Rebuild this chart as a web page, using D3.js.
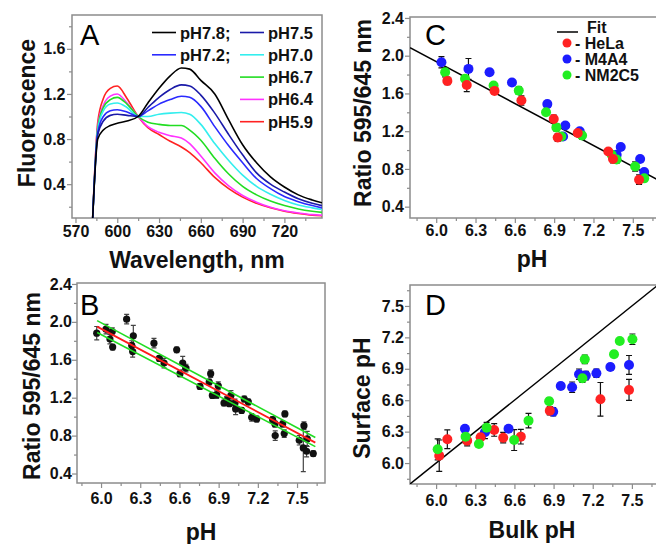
<!DOCTYPE html>
<html>
<head>
<meta charset="utf-8">
<script src="https://cdnjs.cloudflare.com/ajax/libs/d3/7.8.5/d3.min.js"></script>
<style>
  body { margin: 0; background: #fff; }
  svg text { font-family: "Liberation Sans", Arial, sans-serif; }
</style>
</head>
<body>
<div id="viz"></div>
<script>
// ---- Panel A: emission spectra ----
const wavelengths = [582, 586, 590, 595, 600, 607, 615, 622, 630, 638, 646, 652, 660, 670, 680, 690, 700, 710, 720, 730, 740, 747]
const fluorPH78 = [0.0, 0.80, 0.88, 0.92, 0.94, 0.96, 1.0, 1.12, 1.25, 1.36, 1.43, 1.42, 1.32, 1.20, 0.97, 0.75, 0.59, 0.465, 0.375, 0.305, 0.26, 0.235]
const fluorPH75 = [0.0, 0.84, 0.96, 1.01, 1.02, 1.01, 1.0, 1.08, 1.17, 1.24, 1.28, 1.27, 1.19, 1.03, 0.84, 0.66, 0.50, 0.40, 0.33, 0.27, 0.23, 0.21]
const fluorPH72 = [0.0, 0.86, 1.0, 1.05, 1.06, 1.04, 1.0, 1.05, 1.11, 1.15, 1.18, 1.17, 1.09, 0.91, 0.74, 0.59, 0.45, 0.36, 0.29, 0.245, 0.21, 0.19]
const fluorPH70 = [0.0, 0.88, 1.05, 1.11, 1.12, 1.08, 1.0, 1.0, 1.02, 1.03, 1.035, 1.02, 0.93, 0.76, 0.61, 0.48, 0.38, 0.31, 0.255, 0.215, 0.19, 0.175]
const fluorPH67 = [0.0, 0.90, 1.08, 1.15, 1.17, 1.11, 1.0, 0.95, 0.93, 0.92, 0.92, 0.88, 0.79, 0.63, 0.49, 0.38, 0.305, 0.25, 0.21, 0.18, 0.16, 0.15]
const fluorPH64 = [0.0, 0.92, 1.10, 1.18, 1.20, 1.12, 1.0, 0.91, 0.86, 0.83, 0.81, 0.76, 0.65, 0.50, 0.385, 0.30, 0.24, 0.195, 0.165, 0.145, 0.13, 0.125]
const fluorPH59 = [0.0, 0.95, 1.16, 1.25, 1.27, 1.16, 1.0, 0.90, 0.84, 0.78, 0.73, 0.68, 0.59, 0.46, 0.36, 0.285, 0.23, 0.19, 0.16, 0.14, 0.125, 0.12]
const wlTicks = [570, 600, 630, 660, 690, 720]
const fluorTicks = [0.4, 0.8, 1.2, 1.6]

// ---- Panel B: pooled calibration [pH, ratio, err] ----
const calibPoints = [
  [5.967, 1.881, 0.07], [6.038, 1.923, 0.05], [6.068, 1.818, 0.05], [6.086, 1.898, 0.04], [6.089, 1.734, 0.03],
  [6.196, 2.028, 0.05], [6.235, 1.751, 0.05], [6.247, 1.853, 0.11], [6.242, 1.687, 0.06], [6.405, 1.775, 0.05],
  [6.446, 1.614, 0.03], [6.482, 1.565, 0.05], [6.579, 1.705, 0.03], [6.604, 1.453, 0.03], [6.625, 1.565, 0.07],
  [6.650, 1.513, 0.04], [6.757, 1.319, 0.03], [6.828, 1.365, 0.03], [6.839, 1.453, 0.04], [6.852, 1.224, 0.03],
  [6.885, 1.232, 0.04], [6.897, 1.326, 0.04], [6.941, 1.144, 0.03], [6.961, 1.172, 0.04], [6.982, 1.137, 0.03],
  [6.994, 1.224, 0.05], [7.025, 1.144, 0.04], [7.030, 1.081, 0.06], [7.076, 1.066, 0.03], [7.096, 1.186, 0.03],
  [7.127, 1.155, 0.03], [7.153, 0.993, 0.04], [7.191, 0.975, 0.03], [7.313, 0.968, 0.03], [7.331, 0.923, 0.03],
  [7.333, 0.800, 0.05], [7.390, 0.923, 0.03], [7.402, 0.821, 0.04], [7.407, 1.029, 0.03], [7.517, 0.751, 0.05],
  [7.553, 0.905, 0.04], [7.548, 0.670, 0.25], [7.573, 0.635, 0.06], [7.624, 0.610, 0.03], [7.578, 0.765, 0.08]
]
const fitB = [[5.97, 1.95], [7.64, 0.726]]
const fitBUpper = [[5.97, 2.013], [7.64, 0.78]]
const fitBLower = [[5.97, 1.887], [7.64, 0.684]]
const pHTicks = [6.0, 6.3, 6.6, 6.9, 7.2, 7.5]
const ratioTicks = [0.4, 0.8, 1.2, 1.6, 2.0, 2.4]

// ---- Panel C: ratio per cell line [pH, ratio, err] ----
const ratioHeLa = [[6.085, 1.733, 0.04], [6.233, 1.69, 0.07], [6.445, 1.627, 0.03], [6.65, 1.525, 0.05], [6.897, 1.33, 0.04],
  [6.927, 1.133, 0.04], [7.08, 1.18, 0.03], [7.313, 0.985, 0.03], [7.349, 0.905, 0.04], [7.548, 0.686, 0.05]]
const ratioM4A4 = [[6.04, 1.93, 0.06], [6.246, 1.86, 0.11], [6.407, 1.825, 0.03], [6.578, 1.716, 0.02], [6.848, 1.487, 0.03],
  [6.968, 1.144, 0.02], [6.985, 1.26, 0.03], [7.095, 1.20, 0.02], [7.377, 0.95, 0.03], [7.408, 1.032, 0.02],
  [7.556, 0.905, 0.03], [7.587, 0.767, 0.03]]
const ratioNM2C5 = [[6.068, 1.825, 0.05], [6.22, 1.755, 0.03], [6.438, 1.684, 0.03], [6.63, 1.63, 0.04], [6.838, 1.40, 0.02],
  [6.917, 1.24, 0.04], [6.955, 1.144, 0.03], [7.113, 1.155, 0.04], [7.339, 0.95, 0.04], [7.377, 0.90, 0.04],
  [7.518, 0.826, 0.05], [7.587, 0.70, 0.03]]
const fitC = [[5.8, 2.086], [7.7, 0.678]]

// ---- Panel D: surface vs bulk pH [bulk, surface, err] ----
const surfHeLa = [[6.024, 6.07, 0.15], [6.086, 6.227, 0.09], [6.238, 6.214, 0.05], [6.341, 6.246, 0.03], [6.445, 6.316, 0.06],
  [6.514, 6.242, 0.05], [6.649, 6.252, 0.07], [6.871, 6.50, 0.04], [7.259, 6.609, 0.16], [7.478, 6.698, 0.1]]
const surfM4A4 = [[6.221, 6.328, 0.03], [6.374, 6.294, 0.06], [6.555, 6.328, 0.03], [6.897, 6.49, 0.04], [6.955, 6.736, 0.03],
  [7.042, 6.724, 0.05], [7.095, 6.848, 0.05], [7.147, 6.835, 0.04], [7.228, 6.857, 0.04], [7.335, 6.917, 0.03], [7.478, 6.937, 0.09]]
const surfNM2C5 = [[6.012, 6.131, 0.1], [6.226, 6.252, 0.06], [6.328, 6.182, 0.03], [6.387, 6.338, 0.05], [6.598, 6.22, 0.1],
  [6.708, 6.405, 0.07], [6.866, 6.59, 0.03], [7.121, 6.81, 0.04], [7.139, 6.99, 0.04], [7.363, 7.039, 0.03],
  [7.407, 7.166, 0.02], [7.504, 7.182, 0.05]]
const identityD = [[5.8, 5.8], [7.7, 7.7]]
const surfTicks = [6.0, 6.3, 6.6, 6.9, 7.2, 7.5]

const RED = "#ff2222", BLUE = "#1c1cff", GREEN = "#22ee22"

const spectra = [
  { label: "pH7.8;", color: "#000000", values: fluorPH78, col: 0, row: 0 },
  { label: "pH7.5", color: "#1a1aa8", values: fluorPH75, col: 1, row: 0 },
  { label: "pH7.2;", color: "#2a2aff", values: fluorPH72, col: 0, row: 1 },
  { label: "pH7.0", color: "#33eeee", values: fluorPH70, col: 1, row: 1 },
  { label: "pH6.7", color: "#22dd22", values: fluorPH67, col: 1, row: 2 },
  { label: "pH6.4", color: "#ff33ff", values: fluorPH64, col: 1, row: 3 },
  { label: "pH5.9", color: "#ff2222", values: fluorPH59, col: 1, row: 4 }
]

const svg = d3.select("#viz").append("svg")
  .attr("width", 656)
  .attr("height", 544)

function minorTicks(major, step) {
  const out = []
  major.forEach(v => { out.push(+(v - step).toFixed(3)) })
  out.push(+(major[major.length - 1] + step).toFixed(3))
  return out
}

function panel(cfg) {
  const x = d3.scaleLinear().domain(cfg.xDomain).range([cfg.left, cfg.right])
  const y = d3.scaleLinear().domain(cfg.yDomain).range([cfg.bottom, cfg.top])

  svg.append("clipPath").attr("id", "clip" + cfg.letter)
    .append("rect")
    .attr("x", cfg.left).attr("y", cfg.top)
    .attr("width", cfg.right - cfg.left).attr("height", cfg.bottom - cfg.top)

  svg.append("rect")
    .attr("x", cfg.left).attr("y", cfg.top)
    .attr("width", cfg.right - cfg.left).attr("height", cfg.bottom - cfg.top)
    .attr("fill", "none").attr("stroke", "#8c8c8c").attr("stroke-width", 1.5)

  const inX = v => v >= cfg.xDomain[0] && v <= cfg.xDomain[1]
  const inY = v => v >= cfg.yDomain[0] && v <= cfg.yDomain[1]

  // minor ticks
  svg.append("g").attr("transform", `translate(0,${cfg.bottom})`)
    .call(d3.axisBottom(x).tickValues(minorTicks(cfg.xTicks, cfg.xMinor).filter(inX)).tickSize(3).tickFormat(""))
  svg.append("g").attr("transform", `translate(${cfg.left},0)`)
    .call(d3.axisLeft(y).tickValues(minorTicks(cfg.yTicks, cfg.yMinor).filter(inY)).tickSize(3).tickFormat(""))

  // major ticks + labels
  svg.append("g").attr("transform", `translate(0,${cfg.bottom})`)
    .call(d3.axisBottom(x).tickValues(cfg.xTicks).tickSize(5).tickPadding(cfg.xPad).tickFormat(cfg.xFmt))
  svg.append("g").attr("transform", `translate(${cfg.left},0)`)
    .call(d3.axisLeft(y).tickValues(cfg.yTicks).tickSize(5).tickPadding(cfg.yPad).tickFormat(cfg.yFmt))

  svg.selectAll(".domain").remove()
  svg.selectAll(".tick line").attr("stroke", "#8c8c8c").attr("stroke-width", 1.2)
  svg.selectAll(".tick text")
    .attr("font-size", 16).attr("font-weight", "bold").attr("fill", "#111")
    .style("font-family", '"Liberation Sans", Arial, sans-serif')

  // titles
  svg.append("text")
    .attr("x", (cfg.left + Math.min(cfg.right, 656)) / 2 + (cfg.xTitleShift || 0))
    .attr("y", cfg.xTitleY)
    .attr("text-anchor", "middle")
    .attr("font-size", 23).attr("font-weight", "bold").attr("fill", "#111")
    .text(cfg.xTitle)
  svg.append("text")
    .attr("transform", `translate(${cfg.yTitleX},${cfg.yTitleMid}) rotate(-90)`)
    .attr("text-anchor", "middle")
    .attr("font-size", 23).attr("font-weight", "bold").attr("fill", "#111")
    .text(cfg.yTitle)

  svg.append("text")
    .attr("x", cfg.left + cfg.letterDx).attr("y", cfg.top + cfg.letterDy)
    .attr("font-size", 29).attr("fill", "#000")
    .text(cfg.letter)

  const plot = svg.append("g").attr("clip-path", `url(#clip${cfg.letter})`)
  return { plot, x, y }
}

function drawErrors(g, x, y, data, color, cap) {
  g.selectAll(null).data(data).enter().append("path")
    .attr("d", d => {
      const cx = x(d[0]), y0 = y(d[1] - d[2]), y1 = y(d[1] + d[2])
      return `M${cx},${y0}V${y1}M${cx - cap},${y0}H${cx + cap}M${cx - cap},${y1}H${cx + cap}`
    })
    .attr("stroke", color).attr("stroke-width", 1.2).attr("fill", "none")
}

function drawDots(g, x, y, data, color, r) {
  g.selectAll(null).data(data).enter().append("circle")
    .attr("cx", d => x(d[0]))
    .attr("cy", d => y(d[1]))
    .attr("r", r)
    .attr("fill", color)
}

const lineXY = (x, y) => d3.line().x(d => x(d[0])).y(d => y(d[1]))

// ===== A =====
const A = panel({
  letter: "A", left: 72, right: 322, top: 15, bottom: 218,
  xDomain: [567.5, 747], yDomain: [0.1, 1.9],
  xTicks: wlTicks, xMinor: 15, yTicks: fluorTicks, yMinor: 0.2,
  xFmt: d3.format("d"), yFmt: d3.format(".1f"), xPad: 3, yPad: 1.5,
  xTitle: "Wavelength, nm", xTitleY: 268,
  yTitle: "Fluorescence", yTitleX: 35, yTitleMid: 113,
  letterDx: 8, letterDy: 30
})
const specLine = d3.line()
  .x((d, i) => A.x(wavelengths[i]))
  .y(d => A.y(d))
  .curve(d3.curveMonotoneX)
A.plot.selectAll(".spec").data(spectra.slice().reverse()).enter().append("path")
  .attr("d", s => specLine(s.values))
  .attr("fill", "none")
  .attr("stroke", s => s.color)
  .attr("stroke-width", 1.6)

const legA = svg.append("g")
spectra.forEach(s => {
  const lx = s.col === 0 ? 152 : 240
  const ly = 32.5 + s.row * 22.3
  legA.append("line").attr("x1", lx).attr("x2", lx + 24).attr("y1", ly).attr("y2", ly)
    .attr("stroke", s.color).attr("stroke-width", 1.6)
  legA.append("text").attr("x", lx + 28).attr("y", ly + 6)
    .attr("font-size", 16.5).attr("font-weight", "bold").attr("fill", "#111")
    .text(s.label)
})

// ===== B =====
const B = panel({
  letter: "B", left: 77, right: 325, top: 283, bottom: 483,
  xDomain: [5.816, 7.714], yDomain: [0.3, 2.41],
  xTicks: pHTicks, xMinor: 0.15, yTicks: ratioTicks, yMinor: 0.2,
  xFmt: d3.format(".1f"), yFmt: d3.format(".1f"), xPad: 5, yPad: 0,
  xTitle: "pH", xTitleY: 540,
  yTitle: "Ratio 595/645 nm", yTitleX: 40, yTitleMid: 386,
  letterDx: 3, letterDy: 32
})
drawErrors(B.plot, B.x, B.y, calibPoints, "#444", 2.5)
drawDots(B.plot, B.x, B.y, calibPoints, "#111", 3.6)
B.plot.append("path").datum(fitBUpper).attr("d", lineXY(B.x, B.y))
  .attr("stroke", "#22dd22").attr("stroke-width", 1.6).attr("fill", "none")
B.plot.append("path").datum(fitBLower).attr("d", lineXY(B.x, B.y))
  .attr("stroke", "#22dd22").attr("stroke-width", 1.6).attr("fill", "none")
B.plot.append("path").datum(fitB).attr("d", lineXY(B.x, B.y))
  .attr("stroke", "#ff1a1a").attr("stroke-width", 1.8).attr("fill", "none")

// ===== C =====
const C = panel({
  letter: "C", left: 410, right: 659, top: 17, bottom: 218,
  xDomain: [5.8, 7.7], yDomain: [0.28, 2.41],
  xTicks: pHTicks, xMinor: 0.15, yTicks: ratioTicks, yMinor: 0.2,
  xFmt: d3.format(".1f"), yFmt: d3.format(".1f"), xPad: 2, yPad: 1,
  xTitle: "pH", xTitleY: 267, xTitleShift: -1,
  yTitle: "Ratio 595/645 nm", yTitleX: 371, yTitleMid: 113,
  letterDx: 15, letterDy: 28
})
C.plot.append("path").datum(fitC).attr("d", lineXY(C.x, C.y))
  .attr("stroke", "#000").attr("stroke-width", 1.5).attr("fill", "none")
;[[ratioM4A4, BLUE], [ratioNM2C5, GREEN], [ratioHeLa, RED]].forEach(([d, c]) => {
  drawErrors(C.plot, C.x, C.y, d, "#111", 3)
})
;[[ratioM4A4, BLUE], [ratioNM2C5, GREEN], [ratioHeLa, RED]].forEach(([d, c]) => {
  drawDots(C.plot, C.x, C.y, d, c, 5)
})

const legC = svg.append("g")
legC.append("line").attr("x1", 557).attr("x2", 578).attr("y1", 32).attr("y2", 32)
  .attr("stroke", "#000").attr("stroke-width", 1.5)
legC.append("text").attr("x", 587).attr("y", 33)
  .attr("font-size", 16).attr("font-weight", "bold").attr("fill", "#111").text("Fit")
;[["- HeLa", RED], ["- M4A4", BLUE], ["- NM2C5", GREEN]].forEach(([t, c], i) => {
  const ly = 43 + i * 16
  legC.append("circle").attr("cx", 567).attr("cy", ly).attr("r", 4.5).attr("fill", c)
  legC.append("text").attr("x", 575).attr("y", ly + 6)
    .attr("font-size", 16).attr("font-weight", "bold").attr("fill", "#111").text(t)
})

// ===== D =====
const D = panel({
  letter: "D", left: 410, right: 658, top: 285, bottom: 484,
  xDomain: [5.8, 7.7], yDomain: [5.8, 7.7],
  xTicks: pHTicks, xMinor: 0.15, yTicks: surfTicks, yMinor: 0.15,
  xFmt: d3.format(".1f"), yFmt: d3.format(".1f"), xPad: 6, yPad: 1,
  xTitle: "Bulk pH", xTitleY: 538, xTitleShift: -1,
  yTitle: "Surface pH", yTitleX: 370, yTitleMid: 398,
  letterDx: 15, letterDy: 30
})
D.plot.append("path").datum(identityD).attr("d", lineXY(D.x, D.y))
  .attr("stroke", "#000").attr("stroke-width", 1.5).attr("fill", "none")
;[surfHeLa, surfM4A4, surfNM2C5].forEach(d => drawErrors(D.plot, D.x, D.y, d, "#111", 3))
;[[surfM4A4, BLUE], [surfHeLa, RED], [surfNM2C5, GREEN]].forEach(([d, c]) => {
  drawDots(D.plot, D.x, D.y, d, c, 5)
})
</script>
</body>
</html>
